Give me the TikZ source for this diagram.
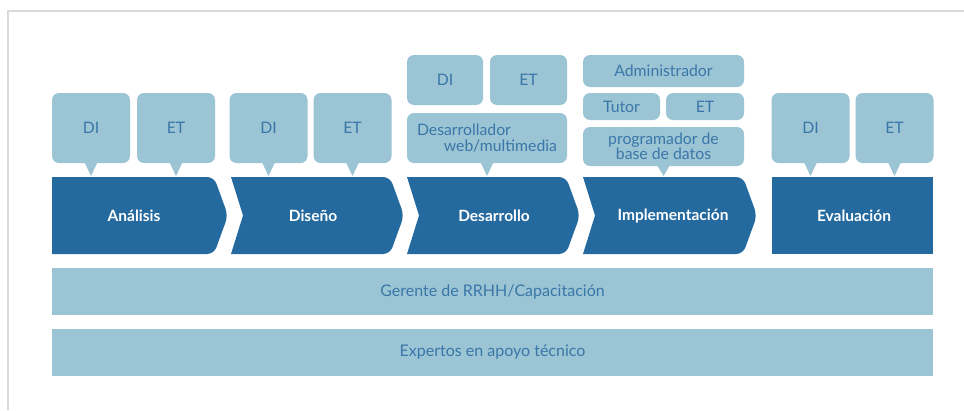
\documentclass[tikz,border=0pt]{standalone}
\usepackage{fontspec}
\setmainfont{Lato}
\definecolor{dark}{HTML}{256A9F}
\definecolor{light}{HTML}{9BC4D5}
\definecolor{txt}{HTML}{3A77A8}
\definecolor{frame}{HTML}{DADADA}
\begin{document}
\begin{tikzpicture}[x=1pt,y=-1pt,
  bubble/.style={fill=light, rounded corners=7pt, inner sep=0pt, text=txt,
    font=\fontsize{15.8}{17}\selectfont, minimum width=78pt, minimum height=70pt},
  band/.style={fill=light, inner sep=0pt, text=txt, font=\fontsize{16}{18}\selectfont,
    minimum width=881pt, minimum height=47pt},
  phase/.style={text=white, font=\bfseries\fontsize{15.5}{17}\selectfont, inner sep=0pt},
  ptr/.style={fill=light}]
\useasboundingbox (0,0) rectangle (964,410);
\fill[white] (0,0) rectangle (964,410);
\draw[frame, line width=1.2pt] (8,410) -- (8,11) -- (964,11);

% chevrons
\newcommand\chevshape[3]{%
  \fill[dark] (#1,254) -- (#1+#3,215.5) -- (#1,177)
    [rounded corners=7pt] -- (#2-14,177) -- (#2,215.5) -- (#2-14,254) [sharp corners] -- cycle;}
\chevshape{52}{228}{0}
\chevshape{231}{404}{12}
\chevshape{407}{580}{12}
\chevshape{583}{757}{12}
\fill[dark] (772,177) rectangle (933,254);

\node[phase] (p1) at (134,216) {Análisis};
\node[phase] (p2) at (313,216) {Diseño};
\node[phase] (p3) at (494,216) {Desarrollo};
\node[phase] (p4) at (673,216) {Implementación};
\node[phase] (p5) at (854,216) {Evaluación};

% pointers
\newcommand\pointer[1]{%
  \fill[light] ([xshift=-7pt,yshift=2pt]#1.south) -- ([xshift=7pt,yshift=2pt]#1.south) -- (#1.south |- 0,176) -- cycle;}

% bubbles
\node[bubble] (a1) at (91,128) {DI};
\node[bubble] (a2) at (176,128) {ET};
\node[bubble] (d1) at (268.5,128) {DI};
\node[bubble] (d2) at (352.5,128) {ET};
\node[bubble, minimum width=76pt, minimum height=50pt] (s1) at (445,80) {DI};
\node[bubble, minimum width=77pt, minimum height=50pt] (s2) at (528.5,80) {ET};
\node[bubble, minimum width=160pt, minimum height=50pt, align=center] (s3) at (487,138)
  {\makebox[140pt][l]{Desarrollador}\\[-1pt]\makebox[140pt][r]{web/multimedia}};
\node[bubble, minimum width=161pt, minimum height=32pt] (i1) at (663.5,71) {Administrador};
\node[bubble, minimum width=77pt, minimum height=27pt] (i2) at (621.5,106.5) {Tutor};
\node[bubble, minimum width=78pt, minimum height=27pt] (i3) at (705,106.5) {ET};
\node[bubble, minimum width=161pt, minimum height=39pt, align=center,
  font=\fontsize{15.8}{15}\selectfont] (i4) at (663.5,146.5) {programador de\\base de datos};
\node[bubble] (e1) at (810.5,128) {DI};
\node[bubble] (e2) at (894.5,128) {ET};

\pointer{a1}\pointer{a2}\pointer{d1}\pointer{d2}\pointer{s3}\pointer{i4}\pointer{e1}\pointer{e2}

% bands
\node[band] (g) at (492.5,291.5) {Gerente de RRHH/Capacitación};
\node[band] (x) at (492.5,352.5) {Expertos en apoyo técnico};
\end{tikzpicture}
\end{document}
